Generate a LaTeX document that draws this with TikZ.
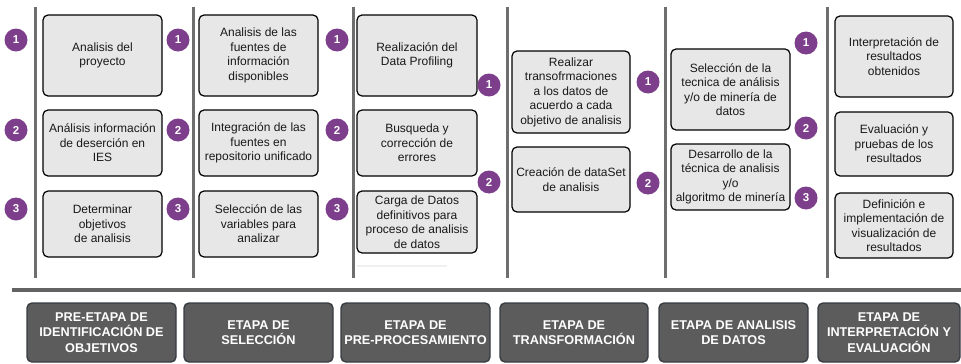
\documentclass[tikz,border=0pt]{standalone}
\usepackage{fontspec}
\setmainfont{Liberation Sans}
\definecolor{violetrond}{RGB}{125,63,140}
\definecolor{grisfond}{RGB}{231,231,231}
\definecolor{grisetape}{RGB}{92,92,92}
\definecolor{bordetape}{RGB}{55,60,66}
\definecolor{grisligne}{RGB}{110,110,110}
\begin{document}
\begin{tikzpicture}[x=1pt,y=-1pt]
\tikzset{boite/.style={draw, rounded corners=5pt, fill=grisfond, line width=1.2pt, align=center, inner sep=1pt, text=black!90, font=\fontsize{12}{14.5}\selectfont}}
\tikzset{rond/.style={circle, fill=violetrond, text=white, inner sep=0pt, minimum size=23pt, font=\bfseries\fontsize{11.5}{11.5}\selectfont}}
\tikzset{etape/.style={draw=bordetape, fill=grisetape, rounded corners=5pt, line width=1.4pt, align=center, inner sep=1pt, text=white, minimum height=59pt, font=\bfseries\fontsize{12.7}{15.5}\selectfont}}
\tikzset{separ/.style={draw=grisligne, line width=3pt}}
\useasboundingbox (0,0) rectangle (961,364);
\draw[separ] (35,7) -- (35,278);
\draw[separ] (193,7) -- (193,278);
\draw[separ] (353,7) -- (353,278);
\draw[separ] (507,7) -- (507,278);
\draw[separ] (665,7) -- (665,278);
\draw[separ] (827,7) -- (827,278);
\draw[grisligne!90!black, line width=4pt] (12,290) -- (961,290);
\draw[gray!12, line width=2pt] (357,266) -- (447,266);
\node[boite, minimum width=119pt, minimum height=81pt] (B11) at (102.5,55.5) {Analisis del\\proyecto};
\node[boite, minimum width=119pt, minimum height=66pt] (B12) at (102.5,143) {Análisis información\\de deserción en\\IES};
\node[boite, minimum width=119pt, minimum height=66pt] (B13) at (102.5,224) {Determinar\\objetivos\\de analisis};
\node[boite, minimum width=119pt, minimum height=81pt] (B21) at (258.5,55.5) {Analisis de las\\fuentes de\\información\\disponibles};
\node[boite, minimum width=119pt, minimum height=66pt] (B22) at (258.5,143) {Integración de las\\fuentes en\\repositorio unificado};
\node[boite, minimum width=119pt, minimum height=66pt] (B23) at (258.5,224) {Selección de las\\variables para\\analizar};
\node[boite, minimum width=120pt, minimum height=81pt] (B31) at (417,55.5) {Realización del\\Data Profiling};
\node[boite, minimum width=120pt, minimum height=66pt] (B32) at (417,143) {Busqueda y\\corrección de\\errores};
\node[boite, minimum width=120pt, minimum height=62pt] (B33) at (417,222) {Carga de Datos\\definitivos para\\proceso de analisis\\de datos};
\node[boite, minimum width=118pt, minimum height=82pt] (B41) at (571,92) {Realizar\\transofrmaciones\\a los datos de\\acuerdo a cada\\objetivo de analisis};
\node[boite, minimum width=118pt, minimum height=65pt] (B42) at (571,179.5) {Creación de dataSet\\de analisis};
\node[boite, minimum width=119pt, minimum height=81pt] (B51) at (730.5,89.5) {Selección de la\\tecnica de análisis\\y/o de minería de\\datos};
\node[boite, minimum width=119pt, minimum height=66pt] (B52) at (730.5,177) {Desarrollo de la\\técnica de analisis\\y/o\\algoritmo de minería};
\node[boite, minimum width=118pt, minimum height=81pt] (B61) at (894,56.5) {Interpretación de\\resultados\\obtenidos};
\node[boite, minimum width=118pt, minimum height=64pt] (B62) at (894,144) {Evaluación y\\pruebas de los\\resultados};
\node[boite, minimum width=118pt, minimum height=65pt] (B63) at (894,225.5) {Definición e\\implementación de\\visualización de\\resultados};
\node[rond] (R11) at (16,40) {1};
\node[rond] (R12) at (16,130) {2};
\node[rond] (R13) at (16,209) {3};
\node[rond] (R21) at (178,40) {1};
\node[rond] (R22) at (178,130) {2};
\node[rond] (R23) at (178,209) {3};
\node[rond] (R31) at (337,40) {1};
\node[rond] (R32) at (337,130) {2};
\node[rond] (R33) at (337,209) {3};
\node[rond] (R41) at (489,85) {1};
\node[rond] (R42) at (489,182) {2};
\node[rond] (R51) at (648,82) {1};
\node[rond] (R52) at (648,183) {2};
\node[rond] (R61) at (806,43) {1};
\node[rond] (R62) at (806,128) {2};
\node[rond] (R63) at (806,198) {3};
\node[etape, minimum width=149pt] (E1) at (101.5,332.5) {PRE-ETAPA DE\\IDENTIFICACIÓN DE\\OBJETIVOS};
\node[etape, minimum width=149pt] (E2) at (258.5,332.5) {ETAPA DE\\SELECCIÓN};
\node[etape, minimum width=149pt] (E3) at (415.5,332.5) {ETAPA DE\\PRE-PROCESAMIENTO};
\node[etape, minimum width=148pt] (E4) at (574,332.5) {ETAPA DE\\TRANSFORMACIÓN};
\node[etape, minimum width=149pt] (E5) at (733.5,332.5) {ETAPA DE ANALISIS\\DE DATOS};
\node[etape, minimum width=142pt] (E6) at (889,332.5) {ETAPA DE\\INTERPRETACIÓN Y\\EVALUACIÓN};
\end{tikzpicture}
\end{document}
